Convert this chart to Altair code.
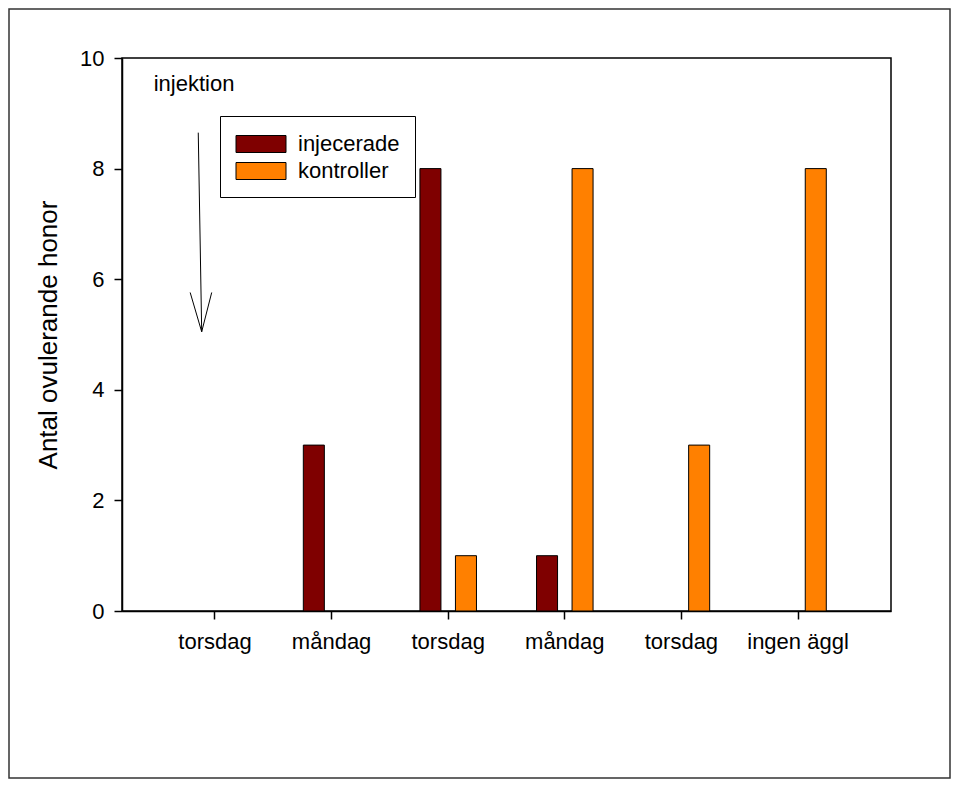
import altair as alt
import pandas as pd

# ---- data ----
day_keys = ["d1", "d2", "d3", "d4", "d5", "d6"]
day_labels = ["torsdag", "måndag", "torsdag", "måndag", "torsdag", "ingen äggl"]
groups = ["injecerade", "kontroller"]
injecerade = [0, 3, 8, 1, 0, 0]
kontroller = [0, 0, 1, 8, 3, 8]
colors = ["#7f0000", "#ff8000"]

# annotation ("injektion" + arrow), in data units
annot_day = "d1"
annot_text = "injektion"
annot_text_y = 9.53
arrow_top_y = 8.65
arrow_tip_y = 5.05
arrowhead_y = 5.76

FONT = "Liberation Sans"

rows = []
for k, a, b in zip(day_keys, injecerade, kontroller):
    rows.append({"day": k, "group": groups[0], "value": a})
    rows.append({"day": k, "group": groups[1], "value": b})
df = pd.DataFrame(rows)

label_expr = (
    "[" + ",".join(f"'{l}'" for l in day_labels) + "][indexof(["
    + ",".join(f"'{k}'" for k in day_keys) + "], datum.value)]"
)

xscale = alt.Scale(domain=day_keys, paddingInner=0.515, paddingOuter=0.555)
yscale = alt.Scale(domain=[0, 10], nice=False)

x_axis = alt.Axis(title=None, labelExpr=label_expr, labelAngle=0, labelFontSize=22,
                  labelPadding=12, tickSize=8, labelBaseline="top")
y_axis = alt.Axis(title="Antal ovulerande honor", values=[0, 2, 4, 6, 8, 10],
                  labelFontSize=22, labelPadding=10, tickSize=8,
                  titleFontSize=26, titlePadding=18, titleFontWeight="normal")


def X(**kw):
    return alt.X("day:N", scale=xscale, axis=x_axis, sort=day_keys, **kw)


bars = alt.Chart(df).transform_filter("datum.value > 0").mark_bar(
    stroke="black", strokeWidth=1
).encode(
    x=X(),
    xOffset=alt.XOffset("group:N", scale=alt.Scale(domain=groups, paddingInner=0.408, paddingOuter=0)),
    y=alt.Y("value:Q", scale=yscale, axis=y_axis),
    color=alt.Color(
        "group:N",
        scale=alt.Scale(domain=groups, range=colors),
        legend=alt.Legend(
            title=None, orient="none", legendX=98, legendY=58,
            strokeColor="black", fillColor="white", padding=15,
            symbolType="M-2,-0.68H2V0.68H-2Z", symbolSize=625, symbolOffset=13,
            symbolStrokeColor="black", symbolStrokeWidth=1, symbolOpacity=1,
            labelFontSize=22, labelOffset=24, rowPadding=3, labelFont=FONT,
        ),
    ),
)

ann = pd.DataFrame({
    "day": [annot_day], "text": [annot_text], "ty": [annot_text_y],
    "top": [arrow_top_y], "tip": [arrow_tip_y], "head": [arrowhead_y],
})
base = alt.Chart(ann)

text = base.mark_text(fontSize=22, font=FONT, align="center", baseline="middle", color="black").encode(
    x=X(bandPosition=0.13),
    y=alt.Y("ty:Q", scale=yscale, axis=y_axis),
    text="text:N",
)

shaft = base.mark_rule(color="black", strokeWidth=1).encode(
    x=X(bandPosition=0.204),
    x2=alt.X2("day", bandPosition=0.265),
    y=alt.Y("top:Q", scale=yscale, axis=y_axis),
    y2="tip:Q",
)
head_l = base.mark_rule(color="black", strokeWidth=1).encode(
    x=X(bandPosition=0.061),
    x2=alt.X2("day", bandPosition=0.265),
    y=alt.Y("head:Q", scale=yscale, axis=y_axis),
    y2="tip:Q",
)
head_r = base.mark_rule(color="black", strokeWidth=1).encode(
    x=X(bandPosition=0.442),
    x2=alt.X2("day", bandPosition=0.265),
    y=alt.Y("head:Q", scale=yscale, axis=y_axis),
    y2="tip:Q",
)

border = alt.Chart(alt.Data(values=[{}])).mark_rect(
    fill="transparent", stroke="#333333", strokeWidth=1.5
).encode(
    x=alt.value(-113), x2=alt.value(828), y=alt.value(-49), y2=alt.value(720)
)

chart = alt.layer(border, bars, text, shaft, head_l, head_r).properties(
    width=769, height=553, padding=0, background="white"
).configure_view(
    stroke="black", strokeWidth=1.5
).configure_axis(
    labelFont=FONT, titleFont=FONT, labelColor="black", titleColor="black",
    domainColor="black", tickColor="black", domainWidth=1.5, tickWidth=1.5, grid=False,
).configure_legend(
    labelColor="black"
)

chart.save("out.html", embed_options={"renderer": "svg", "actions": False})
